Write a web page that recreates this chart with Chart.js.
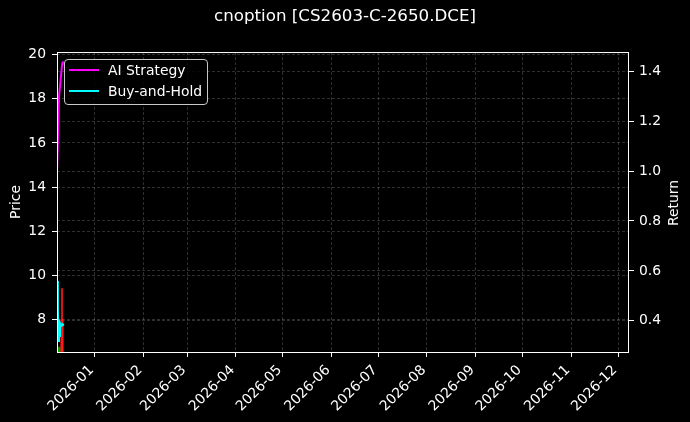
<!DOCTYPE html>
<html>
<head>
<meta charset="utf-8">
<title>cnoption [CS2603-C-2650.DCE]</title>
<script src="https://cdn.jsdelivr.net/npm/chart.js@4.4.1/dist/chart.umd.min.js"></script>
<style>
    html, body { margin: 0; padding: 0; background: #000; }
    #wrap { position: relative; width: 690px; height: 422px; background: #000; }
    #legend {
        position: absolute; left: 64px; top: 59px; width: 144px; height: 46px;
        box-sizing: border-box; border: 1px solid #c8c8c8; border-radius: 4px;
        background: rgba(0, 0, 0, 0.8);
        font-family: 'DejaVu Sans', sans-serif; font-size: 13.9px; color: #fff;
    }
    #legend .swatch { position: absolute; left: 4px; width: 30px; height: 2px; }
    #legend .label { position: absolute; left: 43px; line-height: 16px; white-space: nowrap; }
    #returnTitle {
        position: absolute; left: 643px; top: 195px; width: 60px; height: 16px;
        transform: rotate(-90deg);
        font-family: 'DejaVu Sans', sans-serif; font-size: 13.9px; color: #fff;
        text-align: center; white-space: nowrap; line-height: 16px;
    }
</style>
</head>
<body>
<div id="wrap">
    <canvas id="chart" width="690" height="422"></canvas>
    <div id="legend">
        <span class="swatch" style="top:9px;background:#ff00ff"></span>
        <span class="label" style="top:2px">AI Strategy</span>
        <span class="swatch" style="top:30px;background:#00ffff"></span>
        <span class="label" style="top:23px">Buy-and-Hold</span>
    </div>
    <div id="returnTitle">Return</div>
</div>
<script>
(function(window) {
    'use strict';

    // x values are days counted from 2026-01-01 (negative = Dec 2025)
    var xRange = [-24, 341];
    var monthTickDays = [0, 31, 59, 90, 120, 151, 181, 212, 243, 273, 304, 334];
    var monthTickLabels = ['2026-01', '2026-02', '2026-03', '2026-04', '2026-05', '2026-06',
                           '2026-07', '2026-08', '2026-09', '2026-10', '2026-11', '2026-12'];

    var priceRange = [6.52, 20.12];
    var priceTicks = [8, 10, 12, 14, 16, 18, 20];
    var returnRange = [0.275, 1.477];
    var returnTicks = [0.4, 0.6, 0.8, 1.0, 1.2, 1.4];

    // candles (price axis)
    var candleDays  = [-22.7, -20.8];
    var candleOpen  = [6.0, 8.0];
    var candleHigh  = [6.75, 9.4];
    var candleLow   = [5.8, 6.0];
    var candleClose = [6.7, 6.3];

    // equity curves (return axis)
    var strategyDays   = [-24.0, -22.7, -20.7, -20.3];
    var strategyReturn = [1.0, 1.30, 1.43, 1.44];
    var holdDays   = [-24.0, -23.6, -23.2, -22.9, -22.6, -22.2, -21.5, -20.5, -19.8];
    var holdReturn = [0.56, 0.45, 0.32, 0.40, 0.34, 0.39, 0.38, 0.385, 0.38];

    var FONT = 'DejaVu Sans';
    var FS = 13.9;
    var GRID = 'rgba(255,255,255,0.26)';
    var UP = '#00a000';
    var DOWN = '#ff1a1a';

    function xy(xs, ys) {
        return xs.map(function(x, i) { return { x: x, y: ys[i] }; });
    }

    function candleColors() {
        return candleDays.map(function(d, i) {
            return candleClose[i] >= candleOpen[i] ? UP : DOWN;
        });
    }

    function setTicks(values) {
        return function(scale) {
            scale.ticks = values.map(function(v) { return { value: v }; });
        };
    }

    // white frame round the plot (spines)
    var framePlugin = {
        id: 'frame',
        afterDraw: function(chart) {
            var a = chart.chartArea, ctx = chart.ctx;
            ctx.save();
            ctx.strokeStyle = '#ffffff';
            ctx.lineWidth = 1;
            ctx.strokeRect(a.left + 0.5, a.top + 0.5, a.right - a.left - 1, a.bottom - a.top);
            ctx.restore();
        }
    };

    Chart.defaults.font.family = FONT;
    Chart.defaults.font.size = FS;
    Chart.defaults.color = '#ffffff';

    function grid() {
        return {
            color: GRID,
            lineWidth: 0.7,
            offset: false,
            tickColor: '#ffffff',
            tickWidth: 1,
            tickLength: 5,
            tickBorderDash: []
        };
    }

    new Chart(document.getElementById('chart').getContext('2d'), {
        type: 'bar',
        data: {
            datasets: [{
                type: 'line',
                label: 'Buy-and-Hold',
                yAxisID: 'yReturn',
                data: xy(holdDays, holdReturn),
                borderColor: '#00ffff',
                borderWidth: 2.5,
                pointRadius: 0,
                tension: 0
            }, {
                type: 'line',
                label: 'AI Strategy',
                yAxisID: 'yReturn',
                data: xy(strategyDays, strategyReturn),
                borderColor: '#ff00ff',
                borderWidth: 2,
                pointRadius: 0,
                tension: 0
            }, {
                label: 'body',
                yAxisID: 'yPrice',
                data: candleDays.map(function(d, i) { return { x: d, y: [candleOpen[i], candleClose[i]] }; }),
                backgroundColor: candleColors(),
                barThickness: 2.5,
                grouped: false
            }, {
                label: 'wick',
                yAxisID: 'yPrice',
                data: candleDays.map(function(d, i) { return { x: d, y: [candleLow[i], candleHigh[i]] }; }),
                backgroundColor: candleColors(),
                barThickness: 1,
                grouped: false
            }]
        },
        options: {
            responsive: false,
            animation: false,
            layout: { padding: 0 },
            plugins: {
                legend: { display: false },
                tooltip: { enabled: false },
                title: {
                    display: true,
                    text: 'cnoption [CS2603-C-2650.DCE]',
                    color: '#ffffff',
                    font: { family: FONT, size: 16.7, weight: 'normal' },
                    padding: { top: 7, bottom: 25 }
                }
            },
            scales: {
                x: {
                    type: 'linear',
                    position: 'bottom',
                    min: xRange[0],
                    max: xRange[1],
                    offset: false,
                    afterBuildTicks: setTicks(monthTickDays),
                    afterFit: function(scale) { scale.height = 70; },
                    ticks: {
                        autoSkip: false,
                        maxRotation: 45,
                        minRotation: 45,
                        padding: 5,
                        labelOffset: -3,
                        color: '#ffffff',
                        callback: function(v, i) { return monthTickLabels[i]; }
                    },
                    grid: grid(),
                    border: { display: false, dash: [3, 2] }
                },
                yPrice: {
                    type: 'linear',
                    position: 'left',
                    min: priceRange[0],
                    max: priceRange[1],
                    afterBuildTicks: setTicks(priceTicks),
                    afterFit: function(scale) { scale.width = 57; },
                    ticks: {
                        padding: 6,
                        color: '#ffffff',
                        callback: function(v) { return String(v); }
                    },
                    grid: grid(),
                    border: { display: false, dash: [3, 2] },
                    title: {
                        display: true,
                        text: 'Price',
                        color: '#ffffff',
                        font: { family: FONT, size: FS },
                        padding: { top: 8.3, bottom: 0 }
                    }
                },
                yReturn: {
                    type: 'linear',
                    position: 'right',
                    min: returnRange[0],
                    max: returnRange[1],
                    afterBuildTicks: setTicks(returnTicks),
                    afterFit: function(scale) { scale.width = 61; },
                    ticks: {
                        padding: 5,
                        color: '#ffffff',
                        callback: function(v) { return v.toFixed(1); }
                    },
                    grid: grid(),
                    border: { display: false, dash: [3, 2] }
                }
            }
        },
        plugins: [framePlugin]
    });

})(window);
</script>
</body>
</html>
